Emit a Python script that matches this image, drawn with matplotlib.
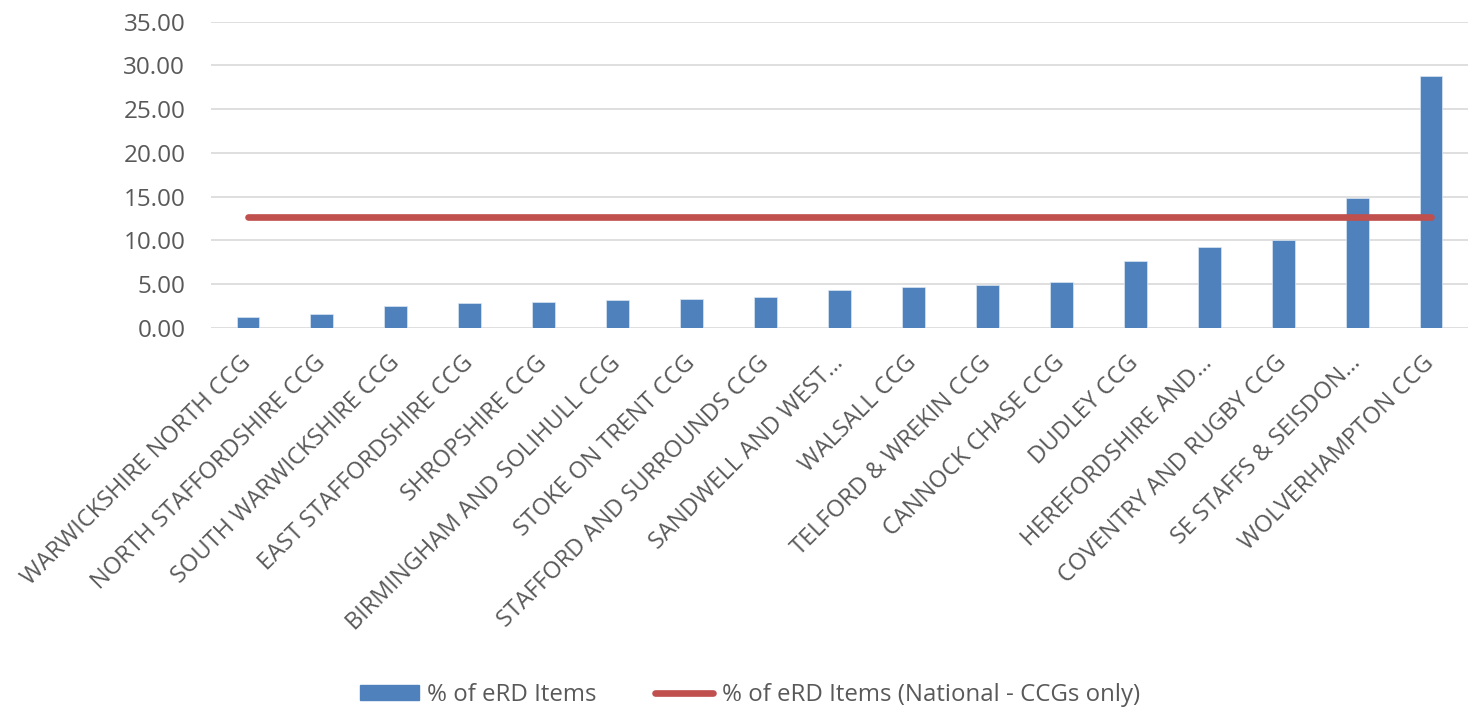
import matplotlib
matplotlib.use("Agg")
import matplotlib.pyplot as plt
from matplotlib.lines import Line2D
from matplotlib.patches import Patch
from matplotlib.transforms import ScaledTranslation

plt.rcParams['font.family'] = ['Open Sans', 'DejaVu Sans']

categories = [
    "WARWICKSHIRE NORTH CCG", "NORTH STAFFORDSHIRE CCG", "SOUTH WARWICKSHIRE CCG",
    "EAST STAFFORDSHIRE CCG", "SHROPSHIRE CCG", "BIRMINGHAM AND SOLIHULL CCG",
    "STOKE ON TRENT CCG", "STAFFORD AND SURROUNDS CCG", "SANDWELL AND WEST\u2026",
    "WALSALL CCG", "TELFORD & WREKIN CCG", "CANNOCK CHASE CCG", "DUDLEY CCG",
    "HEREFORDSHIRE AND\u2026", "COVENTRY AND RUGBY CCG", "SE STAFFS & SEISDON\u2026",
    "WOLVERHAMPTON CCG",
]
erd_pct = [1.22, 1.60, 2.45, 2.79, 2.98, 3.13, 3.32, 3.51, 4.35, 4.69, 4.88,
           5.19, 7.63, 9.20, 10.07, 14.87, 28.83]
national_pct = [12.70] * len(categories)
yticks = [0, 5, 10, 15, 20, 25, 30, 35]

blue = '#4F81BD'
red = '#C0504D'
grey_text = '#595959'

W, H = 1470, 714
fig = plt.figure(figsize=(W/100, H/100), dpi=100)
ax = fig.add_axes([211/W, 1-327.7/H, (1468-211)/W, (327.7-21.7)/H])

x = list(range(len(categories)))
ax.bar(x, erd_pct, width=0.31, color=blue, edgecolor='#DCE6F2', linewidth=0.5, zorder=3)
ax.plot(x, national_pct, color=red, linewidth=4.8, solid_capstyle='round', zorder=4)

ax.set_xlim(-0.5, 16.5)
ax.set_ylim(0, 35)
ax.set_yticks(yticks)
ax.set_yticklabels([f"{v:.2f}" for v in yticks], fontsize=17.5, color=grey_text)
ax.yaxis.grid(True, color='#D9D9D9', linewidth=1.2, zorder=0)
ax.set_axisbelow(True)
ax.tick_params(axis='y', length=0, pad=18.5)
ax.tick_params(axis='x', length=0, pad=0)
for s in ax.spines.values():
    s.set_visible(False)

ax.set_xticks(x)
ax.set_xticklabels(categories, rotation=45, ha='right', va='center', rotation_mode='anchor',
                   fontsize=17, color=grey_text)
shift = ScaledTranslation(0/100, -32/100, fig.dpi_scale_trans)
for lab in ax.get_xticklabels():
    lab.set_transform(lab.get_transform() + shift)

handles = [Patch(facecolor=blue, edgecolor=blue),
           Line2D([0], [0], color=red, linewidth=4.8, solid_capstyle='round')]
labels = ["% of eRD Items", "% of eRD Items (National - CCGs only)"]
fig.legend(handles, labels, loc='center', bbox_to_anchor=(750/W, 1-695/H), ncol=2,
           frameon=False, fontsize=17.3, labelcolor=grey_text, handlelength=2.45,
           handleheight=0.62, handletextpad=0.36, columnspacing=2.4)

fig.savefig('out.png', dpi=100)
